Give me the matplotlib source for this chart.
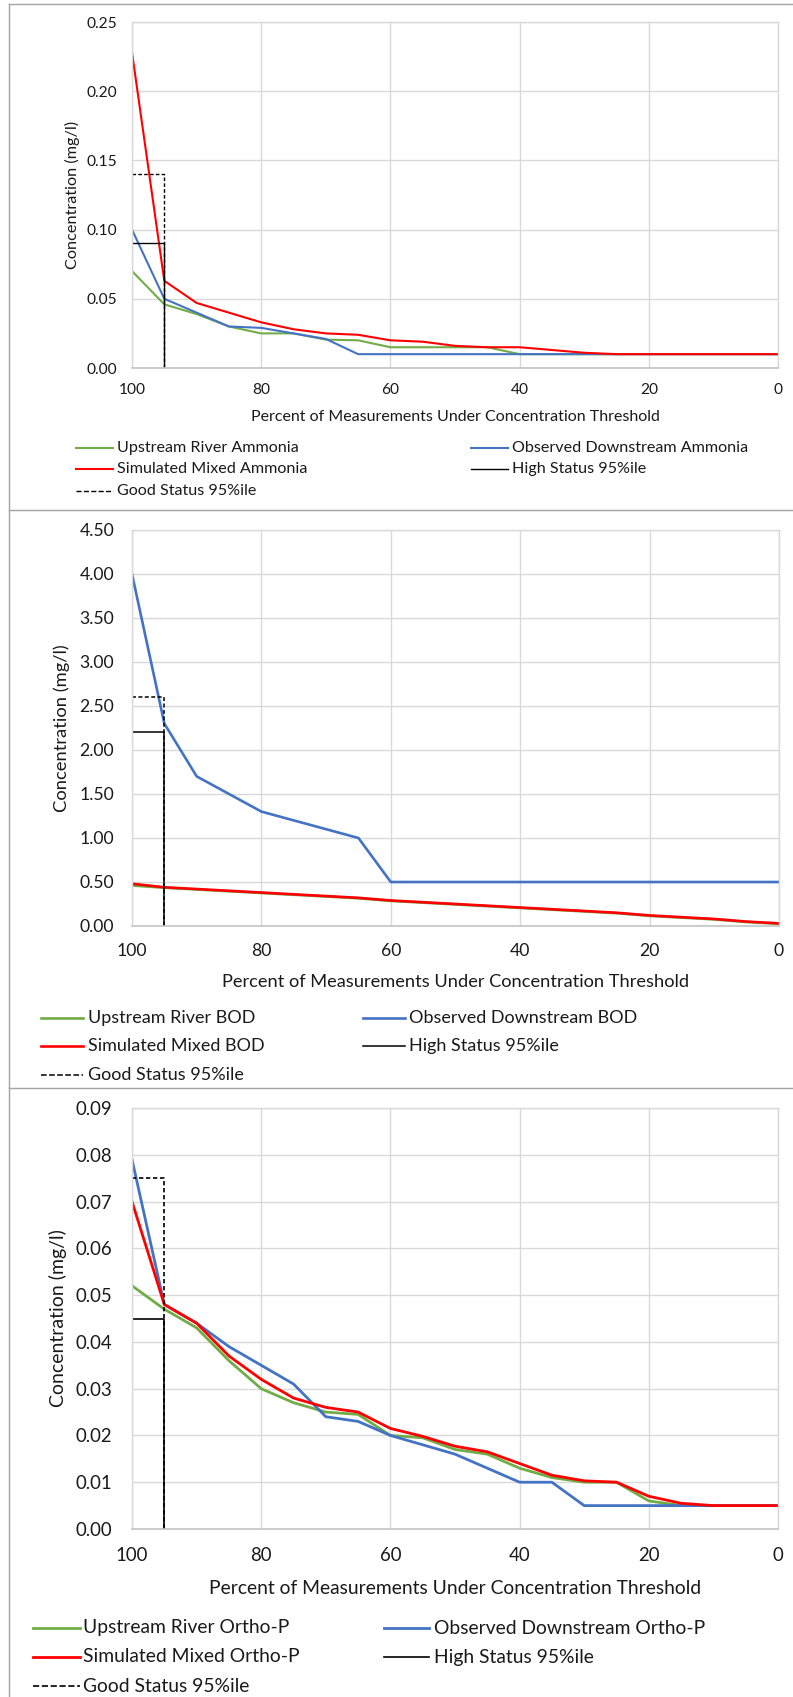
import numpy as np
import matplotlib
matplotlib.use("Agg")
import matplotlib.pyplot as plt
from matplotlib.lines import Line2D
from matplotlib.ticker import FormatStrFormatter

# ---------------- data ----------------
pct = [100, 95, 90, 85, 80, 75, 70, 65, 60, 55, 50, 45, 40, 35, 30, 25, 20, 15, 10, 5, 0]
x_ticks = [100, 80, 60, 40, 20, 0]

amm_upstream = [0.070, 0.046, 0.039, 0.030, 0.025, 0.025, 0.0205, 0.020, 0.015, 0.015, 0.015,
                0.015, 0.010, 0.010, 0.010, 0.010, 0.010, 0.010, 0.010, 0.010, 0.010]
amm_observed = [0.100, 0.050, 0.040, 0.030, 0.029, 0.025, 0.021, 0.010, 0.010, 0.010, 0.010,
                0.010, 0.010, 0.010, 0.010, 0.010, 0.010, 0.010, 0.010, 0.010, 0.010]
amm_simulated = [0.228, 0.063, 0.047, 0.040, 0.033, 0.028, 0.025, 0.024, 0.020, 0.019, 0.016,
                 0.015, 0.015, 0.013, 0.011, 0.010, 0.010, 0.010, 0.010, 0.010, 0.010]

bod_upstream = [0.46, 0.435, 0.415, 0.395, 0.375, 0.355, 0.335, 0.315, 0.285, 0.265, 0.245,
                0.225, 0.205, 0.185, 0.165, 0.145, 0.115, 0.095, 0.075, 0.045, 0.025]
bod_observed = [4.0, 2.3, 1.7, 1.5, 1.3, 1.2, 1.1, 1.0, 0.5, 0.5, 0.5,
                0.5, 0.5, 0.5, 0.5, 0.5, 0.5, 0.5, 0.5, 0.5, 0.5]
bod_simulated = [0.48, 0.44, 0.42, 0.40, 0.38, 0.36, 0.34, 0.32, 0.29, 0.27, 0.25,
                 0.23, 0.21, 0.19, 0.17, 0.15, 0.12, 0.10, 0.08, 0.05, 0.03]

op_upstream = [0.052, 0.047, 0.043, 0.036, 0.030, 0.027, 0.025, 0.0245, 0.020, 0.0195, 0.017,
               0.016, 0.013, 0.011, 0.010, 0.010, 0.006, 0.005, 0.005, 0.005, 0.005]
op_observed = [0.079, 0.048, 0.044, 0.039, 0.035, 0.031, 0.024, 0.023, 0.020, 0.018, 0.016,
               0.013, 0.010, 0.010, 0.005, 0.005, 0.005, 0.005, 0.005, 0.005, 0.005]
op_simulated = [0.070, 0.048, 0.044, 0.037, 0.032, 0.028, 0.026, 0.025, 0.0215, 0.0198, 0.0177,
                0.0165, 0.014, 0.0115, 0.0103, 0.010, 0.007, 0.0055, 0.005, 0.005, 0.005]

status_pct = [100, 95, 95]
high_status = [0.09, 2.2, 0.045]
good_status = [0.14, 2.6, 0.075]

y_max = [0.25, 4.5, 0.09]
y_step = [0.05, 0.5, 0.01]

series_names = [
    ["Upstream River Ammonia", "Observed Downstream Ammonia", "Simulated Mixed Ammonia"],
    ["Upstream River BOD", "Observed Downstream BOD", "Simulated Mixed BOD"],
    ["Upstream River Ortho-P", "Observed Downstream Ortho-P", "Simulated Mixed Ortho-P"],
]
status_names = ["High Status 95%ile", "Good Status 95%ile"]
x_title = "Percent of Measurements Under Concentration Threshold"
y_title = "Concentration (mg/l)"

data = [
    (amm_upstream, amm_observed, amm_simulated),
    (bod_upstream, bod_observed, bod_simulated),
    (op_upstream, op_observed, op_simulated),
]

# ---------------- style / layout ----------------
W, H, DPI = 793, 1697, 100
plt.rcParams["font.family"] = ["Lato", "DejaVu Sans"]
GREEN, BLUE, RED = "#70AD47", "#4472C4", "#FF0000"
TXT = "#1a1a1a"

# pixel targets measured on the reference (text widths used to size fonts)
layout = [
    dict(box=(132, 22, 778, 368), xlab_w=411, ylab_w=148, tick_w=30.7, leg_w=182,
         xtick_y=392, ytick_r=117, xlab_y=416.7, ylab_x=72,
         rows=(447.7, 469.3, 491.0), cols=((76, 113, 117), (471, 508, 512)), lw=1.5, blw=1.0),
    dict(box=(132, 530, 779, 926), xlab_w=469, ylab_w=168, tick_w=35.0, leg_w=167,
         xtick_y=952.7, ytick_r=114, xlab_y=981.7, ylab_x=62,
         rows=(1018.0, 1046.0, 1075.0), cols=((41, 83, 88), (363, 405, 409)), lw=1.9, blw=1.1),
    dict(box=(132, 1108, 778, 1529), xlab_w=495, ylab_w=178, tick_w=37.0, leg_w=206,
         xtick_y=1557, ytick_r=112, xlab_y=1588.0, ylab_x=58,
         rows=(1628.0, 1657.0, 1686.0), cols=((33, 80, 83), (384, 429, 434)), lw=2.0, blw=1.2),
]

fig = plt.figure(figsize=(W / DPI, H / DPI), dpi=DPI)
renderer = fig.canvas.get_renderer()


def fit_size(text, target_px, base=10.0):
    t = fig.text(0, 0, text, fontsize=base)
    w = t.get_window_extent(renderer).width
    t.remove()
    return base * target_px / w


def fx(px):
    return px / W


def fy(py):
    return 1 - py / H


# panel borders
border = "#a3a3a3"
fig.add_artist(Line2D([fx(9), fx(9)], [fy(4), fy(H)], transform=fig.transFigure, color=border, lw=1.0))
for yb in (4, 510, 1088):
    fig.add_artist(Line2D([fx(9), fx(W)], [fy(yb), fy(yb)], transform=fig.transFigure, color=border, lw=1.0))

for i, L in enumerate(layout):
    l, t, r, b = L["box"]
    xfs = fit_size(x_title, L["xlab_w"])
    yfs = fit_size(y_title, L["ylab_w"])
    tfs = fit_size("0.25", L["tick_w"])
    lfs = fit_size(series_names[i][0], L["leg_w"])
    tick_h = tfs * DPI / 72.0

    ax = fig.add_axes([fx(l), fy(b), (r - l) / W, (b - t) / H])
    up, obs, sim = data[i]
    lines = []
    lines.append(ax.plot(pct, up, color=GREEN, lw=L["lw"], solid_joinstyle="round")[0])
    lines.append(ax.plot(pct, obs, color=BLUE, lw=L["lw"], solid_joinstyle="round")[0])
    lines.append(ax.plot(pct, sim, color=RED, lw=L["lw"], solid_joinstyle="round")[0])
    good = ax.plot(status_pct, [good_status[i], good_status[i], 0], color="black",
                   lw=L["blw"], linestyle=(0, (2.6, 1.6)))[0]
    high = ax.plot(status_pct, [high_status[i], high_status[i], 0], color="black", lw=L["blw"])[0]

    ax.set_xlim(100, 0)
    ax.set_ylim(0, y_max[i])
    ax.set_xticks(x_ticks)
    ax.set_yticks(np.arange(0, y_max[i] + y_step[i] / 2, y_step[i]))
    ax.yaxis.set_major_formatter(FormatStrFormatter("%.2f"))
    ax.grid(True, color="#d9d9d9", lw=1.0)
    ax.set_axisbelow(True)
    for s in ("top", "left", "right"):
        ax.spines[s].set_color("#d9d9d9")
        ax.spines[s].set_linewidth(1.0)
    ax.spines["bottom"].set_color("#c4c4c4")
    ax.spines["bottom"].set_linewidth(1.2)
    xpad_px = L["xtick_y"] - b - 0.55 * tick_h
    ypad_px = l - L["ytick_r"]
    ax.tick_params(axis="both", length=0, labelsize=tfs, colors=TXT)
    ax.tick_params(axis="x", pad=xpad_px * 72.0 / DPI)
    ax.tick_params(axis="y", pad=ypad_px * 72.0 / DPI)

    ax.set_xlabel(x_title, fontsize=xfs, color=TXT)
    ax.xaxis.label.set_va("center")
    ax.xaxis.set_label_coords(0.5, (b - L["xlab_y"]) / (b - t))
    ax.set_ylabel(y_title, fontsize=yfs, color=TXT)
    ax.yaxis.label.set_va("center")
    ax.yaxis.label.set_ha("center")
    ax.yaxis.set_label_coords((L["ylab_x"] - l) / (r - l), 0.5)

    # legend (Excel style, row-major, two columns)
    entries = [
        (lines[0], series_names[i][0], 0, 0),
        (lines[1], series_names[i][1], 1, 0),
        (lines[2], series_names[i][2], 0, 1),
        (high, status_names[0], 1, 1),
        (good, status_names[1], 0, 2),
    ]
    for h, label, c, rr in entries:
        x0, x1, xt = L["cols"][c]
        yy = L["rows"][rr]
        fig.add_artist(Line2D([fx(x0), fx(x1)], [fy(yy), fy(yy)], transform=fig.transFigure,
                              color=h.get_color(), lw=h.get_linewidth(), linestyle=h.get_linestyle()))
        fig.text(fx(xt), fy(yy), label, fontsize=lfs, color=TXT, ha="left", va="center")

fig.savefig("out.png", dpi=DPI)
